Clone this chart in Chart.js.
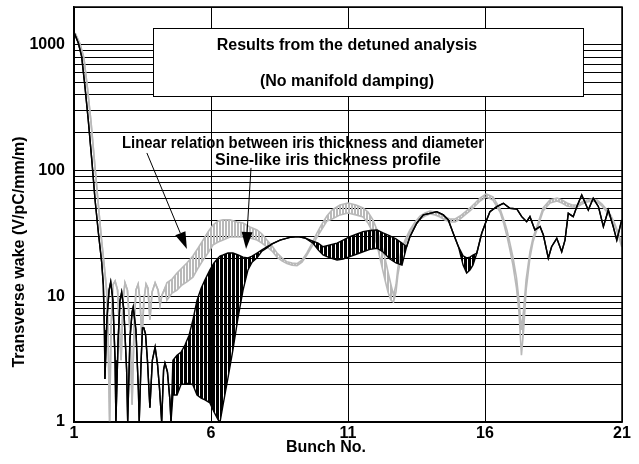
<!DOCTYPE html>
<html>
<head>
<meta charset="utf-8">
<script src="https://cdn.jsdelivr.net/npm/chart.js@4.4.1/dist/chart.umd.min.js"></script>
<style>
  html, body { margin: 0; padding: 0; background: #fff; }
</style>
</head>
<body>
<canvas id="wakeChart" width="639" height="464"></canvas>
<script>
// tick positions / labels
const xTicks = [1, 6, 11, 16, 21];
const yLabels = [1, 10, 100, 1000];
const yGrid = [1, 2, 3, 4, 5, 6, 7, 8, 9, 10, 20, 30, 40, 50, 60, 70, 80, 90,
               100, 200, 300, 400, 500, 600, 700, 800, 900, 1000, 2000];

// [bunch, upper, lower] - lower only given where the trace oscillates into a band
const sineProfile = [
  [1.01,1240],[1.16,1030],[1.28,805],[1.40,465],[1.52,253],[1.65,121],[1.77,58],[1.89,32],[2.01,18.7],
  [2.07,12.3],[2.11,5.4],[2.13,2.2],[2.20,6.5],[2.28,11.2],[2.34,13.0],[2.42,9.3],[2.50,3.1],[2.53,1.0],
  [2.61,4.5],[2.68,9.3],[2.74,10.8],[2.82,7.8],[2.92,2.6],[2.96,1.0],[3.04,4.5],[3.12,7.5],[3.16,8.2],
  [3.26,5.4],[3.35,1.8],[3.38,1.0],[3.45,3.1],[3.50,5.6],[3.55,5.6],[3.61,5.0],[3.68,3.1],[3.77,1.3],
  [3.86,3.1],[3.96,3.95],[4.05,2.85],[4.12,1.86],[4.20,1.0],[4.27,2.6],[4.32,2.95],[4.41,2.5],[4.50,1.5],[4.54,1.0],
  [4.61,3.1,1.64],[4.76,3.4,1.64],[4.91,3.6,2.0],[5.05,4.1,2.0],[5.20,4.9,2.04],[5.34,6.5,1.97],[5.49,9.3,1.64],
  [5.64,11.6,1.55],[5.78,13.5,1.5],[5.96,16.2,1.42],[6.11,18.4,1.2],[6.26,20.2,1.04],[6.33,20.9,1.0],
  [6.44,21.3,1.37],[6.62,22.1,2.24],[6.80,22.1,3.74],[6.99,21.3,6.84],[7.17,20.5,11.2],[7.35,20.2,16.2],
  [7.50,20.9,18.7],[7.68,22.1,20.2],[7.86,23.4,22.9],[8.04,24.7,24.2],
  [8.23,26.1],[8.52,28.0],[8.88,29.4],[9.18,29.8],[9.43,29.1],
  [9.72,27.5,26.5],[9.91,26.5,23.4],[10.09,24.8,21.3],[10.34,25.6,20.2],[10.60,26.5,19.4],[10.82,28.0,19.8],
  [11.07,29.8,20.7],[11.33,31.3,21.7],[11.55,32.7,22.6],[11.80,33.4,23.6],[12.06,33.7,24.1],[12.28,31.9,22.5],
  [12.53,30.2,19.8],[12.75,28.6,18.4],[12.97,26.5,17.7],
  [13.14,24.8],[13.26,29.8],[13.51,38.1],[13.75,44.4],[13.99,45.7],[14.24,47.1],[14.48,44.4],[14.66,40.5],
  [14.84,31.7],[15.03,24.8],
  [15.20,21.0,17.7],[15.33,20.2,15.3],[15.45,20.5,16.2],[15.56,21.3,17.7],
  [15.70,22.0],[15.88,31.7],[16.06,40.5],[16.18,47.1],[16.43,51.6],[16.67,54.9],[16.91,50.1],[17.16,49.5],
  [17.34,43.0],[17.52,39.2],[17.64,43.0],[17.82,33.7],[18.01,35.8],[18.13,30.7],[18.31,20.1],[18.43,24.8],
  [18.62,28.9],[18.80,22.6],[18.92,28.0],[19.04,45.7],[19.22,43.0],[19.35,51.6],[19.53,63.9],[19.77,48.6],
  [19.95,60.2],[20.14,51.6],[20.32,35.8],[20.50,48.6],[20.68,35.8],[20.81,28.0],[20.99,40.5]
];

const linearRelation = [
  [1.04,1243],[1.22,1016],[1.36,786],[1.49,454],[1.62,244],[1.75,117],[1.88,56],[1.99,30.2],[2.09,18.7],
  [2.19,11.2],[2.24,5.4],[2.30,1.0],[2.35,5.4],[2.42,12.3],[2.50,13.2],[2.59,11.2],[2.66,5.4],[2.72,3.1],
  [2.79,9.3],[2.86,12.8],[2.95,11.2],[3.04,5.4],[3.12,1.37],[3.19,5.4],[3.26,11.2],[3.34,12.5],[3.41,9.3],
  [3.48,4.5],[3.55,9.3],[3.63,12.5],[3.70,11.6],[3.77,6.5],[3.85,10.8],[3.96,12.8],[4.07,11.2],[4.14,8.5],
  [4.21,10.2],[4.32,11.6],
  [4.39,12.8,9.3],[4.58,13.7,10.6],[4.76,15.3,11.2],[4.94,16.8,12.3],[5.12,18.4,13.0],[5.34,20.9,14.2],
  [5.53,24.2,16.8],[5.71,28.0,19.4],[5.89,32.5,22.1],[6.07,36.9,25.6],[6.26,39.7,27.0],[6.44,40.5,28.0],
  [6.69,40.5,29.6],[6.95,39.0,29.6],[7.17,38.3,29.6],[7.42,35.6,29.1],[7.68,33.7,28.0],[7.86,31.3,26.5],
  [8.04,28.0,24.7],[8.23,25.1,22.9],[8.41,22.1,20.5],[8.59,20.2,19.1],[8.77,18.8,18.2],[8.96,18.4,17.7],
  [9.14,18.2,17.5],[9.32,19.4,18.7],[9.50,22.1,21.3],[9.69,26.5,25.1],[9.87,31.9,29.6],[10.05,37.6,34.3],
  [10.23,43.5,39.7],[10.42,48.6,41.2],[10.71,53.2,44.4],[11.00,55.2,46.0],[11.29,53.2,44.4],[11.55,50.4,42.7],
  [11.73,46.8,38.3],[11.91,40.5,31.9],[12.06,33.7,25.6],[12.20,27.0,18.7],[12.35,20.2,13.5],[12.46,15.6,10.8],
  [12.57,12.3,9.3],[12.66,10.2,9.0],[12.75,12.3,10.8],[12.82,16.8,14.8],[12.93,22.5,20.2],[13.08,28.0,25.6],
  [13.26,33.7,31.9],[13.45,39.0,36.9],[13.63,43.5,41.2],[13.81,46.0,43.5],[13.99,47.7,45.1],[14.18,46.8,44.4],
  [14.36,45.1,42.7],[14.54,42.7,40.5],[14.72,41.2,39.0],[14.91,41.2,39.0],[15.09,43.5,41.2],[15.27,46.8,44.4],
  [15.45,50.4,47.7],[15.64,55.2,52.3],[15.82,60.5,57.3],[16.04,65.1,61.7],[16.29,61.7,58.3],[16.55,49.5,46.8],
  [16.69,40.5,37.6],[16.80,33.7,30.2],[16.91,26.5,23.4],[17.02,20.5,17.7],[17.15,14.0,11.6],[17.24,9.3,7.5],
  [17.33,5.4,3.4],[17.41,7.8,5.4],[17.50,13.5,11.2],[17.64,22.5,20.2],[17.75,29.1,27.0],[17.90,36.2,34.3],
  [18.12,50.4,47.7],[18.37,58.3,55.2],[18.63,60.5,57.3],[18.81,58.3,55.2],[18.99,55.2,52.3],[19.18,53.2,51.3],
  [19.36,53.2,51.3],[19.54,56.2,54.2],[19.72,58.3,56.2],[19.91,59.4,57.3],[20.09,58.3,56.2],[20.27,54.2,52.3],
  [20.45,48.6,46.8],[20.60,43.5,42.0],[20.74,37.6,36.2],[20.85,32.5,31.3],[20.99,26.1,24.7]
];

const fontFamily = "'Liberation Sans', Arial, Helvetica, sans-serif";
const canvas = document.getElementById('wakeChart');

// vertical stripes to mimic the dense oscillation inside the bands
function stripes(color, on, off) {
  let c = document.createElement('canvas');
  c.width = on + off;
  c.height = 4;
  let g = c.getContext('2d');
  g.fillStyle = color;
  g.fillRect(0, 0, on, 4);
  return canvas.getContext('2d').createPattern(c, 'repeat');
}

function trace(points, color, width, fillColor) {
  return [
    { data: points.map(p => ({ x: p[0], y: p[1] })),
      borderColor: color, borderWidth: width, pointRadius: 0, fill: false },
    { data: points.map(p => ({ x: p[0], y: p.length > 2 ? p[2] : p[1] })),
      borderColor: color, borderWidth: width, pointRadius: 0, fill: '-1', backgroundColor: fillColor }
  ];
}

function arrow(ctx, x0, y0, x1, y1) {
  let a = Math.atan2(y1 - y0, x1 - x0);
  let len = 17, half = 5.5;
  let bx = x1 - len * Math.cos(a), by = y1 - len * Math.sin(a);
  ctx.beginPath();
  ctx.moveTo(x0, y0);
  ctx.lineTo(bx, by);
  ctx.stroke();
  ctx.beginPath();
  ctx.moveTo(x1, y1);
  ctx.lineTo(bx + half * Math.sin(a), by - half * Math.cos(a));
  ctx.lineTo(bx - half * Math.sin(a), by + half * Math.cos(a));
  ctx.closePath();
  ctx.fill();
}

const notes = {
  id: 'notes',
  afterDatasetsDraw(chart) {
    let ctx = chart.ctx;
    let x = chart.scales.x, y = chart.scales.y;
    let area = chart.chartArea;
    ctx.save();

    // frame
    ctx.strokeStyle = '#000';
    ctx.lineWidth = 1.5;
    ctx.strokeRect(area.left, area.top, area.right - area.left, area.bottom - area.top);

    // title box
    ctx.fillStyle = '#fff';
    ctx.lineWidth = 1;
    ctx.fillRect(153.5, 28.5, 430, 68);
    ctx.strokeRect(153.5, 28.5, 430, 68);

    ctx.fillStyle = '#000';
    ctx.font = 'bold 16px ' + fontFamily;
    ctx.textAlign = 'center';
    ctx.textBaseline = 'alphabetic';
    ctx.fillText('Results from the detuned analysis', 347, 50);
    ctx.fillText('(No manifold damping)', 347, 86);

    ctx.textAlign = 'left';
    ctx.fillText('Linear relation between iris thickness and diameter', 122, 148, 362);
    ctx.fillText('Sine-like iris thickness profile', 215, 165);

    // arrows (in data coordinates)
    ctx.lineWidth = 1;
    arrow(ctx, x.getPixelForValue(3.66), y.getPixelForValue(138), x.getPixelForValue(5.12), y.getPixelForValue(23.8));
    arrow(ctx, x.getPixelForValue(7.46), y.getPixelForValue(105), x.getPixelForValue(7.28), y.getPixelForValue(23.8));

    // axis titles
    ctx.textAlign = 'center';
    ctx.textBaseline = 'middle';
    ctx.fillText('Bunch No.', 326, 448);
    ctx.translate(20, 252);
    ctx.rotate(-Math.PI / 2);
    ctx.fillText('Transverse wake (V/pC/mm/m)', 0, 0);
    ctx.restore();
  }
};

const tickFont = { family: fontFamily, size: 16, weight: 'bold' };

new Chart(canvas, {
  type: 'line',
  data: {
    datasets: [
      ...trace(sineProfile, '#000', 1.4, stripes('#000', 3, 1)),
      ...trace(linearRelation, '#b9b9b9', 1.6, stripes('#b9b9b9', 2, 1))
    ]
  },
  options: {
    responsive: false,
    animation: false,
    layout: { padding: { top: 7, right: 17, left: 0, bottom: 0 } },
    plugins: { legend: { display: false }, tooltip: { enabled: false } },
    elements: { line: { tension: 0 } },
    scales: {
      x: {
        type: 'linear', min: 1, max: 21,
        afterBuildTicks: s => { s.ticks = xTicks.map(v => ({ value: v })); },
        afterFit: s => { s.height = 42; s.paddingLeft = 0; s.paddingRight = 0; },
        ticks: { font: tickFont, color: '#000', padding: 2, maxRotation: 0, autoSkip: false },
        grid: { color: '#000', lineWidth: 1, drawTicks: false },
        border: { color: '#000', width: 1.5 }
      },
      y: {
        type: 'logarithmic', min: 1, max: 2000,
        afterBuildTicks: s => { s.ticks = yGrid.map(v => ({ value: v })); },
        afterFit: s => { s.width = 74; s.paddingTop = 0; s.paddingBottom = 0; },
        ticks: {
          font: tickFont, color: '#000', padding: 9, autoSkip: false,
          callback: v => yLabels.includes(v) ? String(v) : ''
        },
        grid: { color: '#000', lineWidth: 1, drawTicks: false },
        border: { color: '#000', width: 1.5 }
      }
    }
  },
  plugins: [notes]
});
</script>
</body>
</html>
